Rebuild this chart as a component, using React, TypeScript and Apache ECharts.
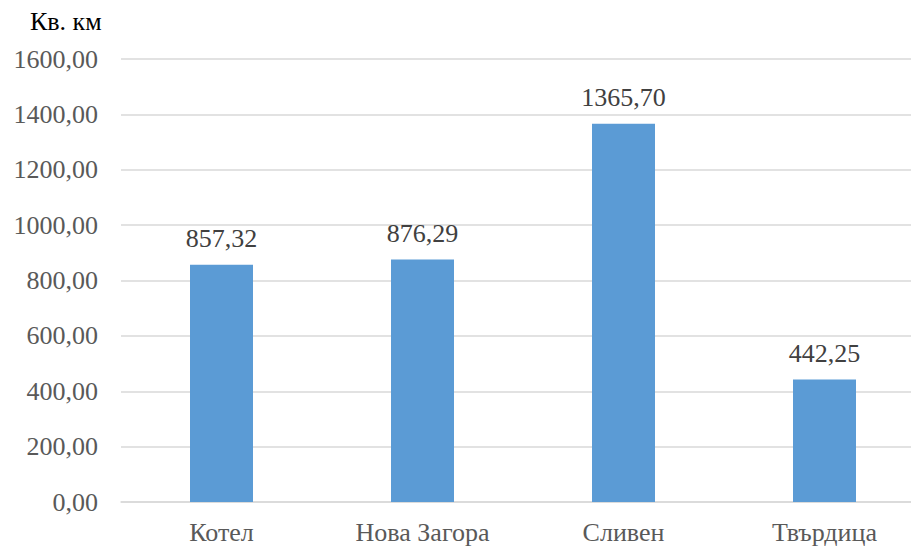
import React, { useEffect, useRef } from "react";
import * as echarts from "echarts";

const categories = ["Котел", "Нова Загора", "Сливен", "Твърдица"];
const values = [857.32, 876.29, 1365.7, 442.25];
const yTicks = [0, 200, 400, 600, 800, 1000, 1200, 1400, 1600];
const unitLabel = "Кв. км";

const fmt = (v: number) => v.toFixed(2).replace(".", ",");
const FONT = "Liberation Serif";
const FS = 26;

export default function App() {
  const ref = useRef<HTMLDivElement>(null);
  useEffect(() => {
    if (!ref.current) return;
    const chart = echarts.init(ref.current, null, { renderer: "svg" });
    chart.setOption({
      animation: false,
      backgroundColor: "#ffffff",
      graphic: [
        {
          type: "text",
          left: 30,
          top: 8,
          style: { text: unitLabel, fontFamily: FONT, fontSize: 26, fill: "#000000" },
        },
      ],
      grid: { left: 121, top: 59, width: 804, height: 443, containLabel: false },
      xAxis: {
        type: "category",
        data: categories,
        axisLine: { lineStyle: { color: "#D9D9D9", width: 1.5 } },
        axisTick: { show: false },
        axisLabel: { fontFamily: FONT, fontSize: FS, color: "#595959", margin: 17 },
      },
      yAxis: {
        type: "value",
        min: yTicks[0],
        max: yTicks[yTicks.length - 1],
        interval: 200,
        axisLine: { show: false },
        axisTick: { show: false },
        splitLine: { lineStyle: { color: "#D9D9D9", width: 1.5 } },
        axisLabel: {
          fontFamily: FONT,
          fontSize: FS,
          color: "#595959",
          margin: 23,
          formatter: (v: number) => fmt(v),
        },
      },
      series: [
        {
          type: "bar",
          data: values,
          barWidth: 63,
          itemStyle: { color: "#5B9BD5" },
          label: {
            show: true,
            position: "top",
            distance: 13,
            fontFamily: FONT,
            fontSize: FS,
            color: "#404040",
            formatter: (p: any) => fmt(p.value),
          },
        },
      ],
    });
    return () => chart.dispose();
  }, []);
  return (
    <div
      style={{
        position: "absolute",
        left: 0,
        top: 0,
        width: 911,
        height: 547,
        overflow: "hidden",
      }}
    >
      <div ref={ref} style={{ width: 940, height: 547 }} />
    </div>
  );
}
